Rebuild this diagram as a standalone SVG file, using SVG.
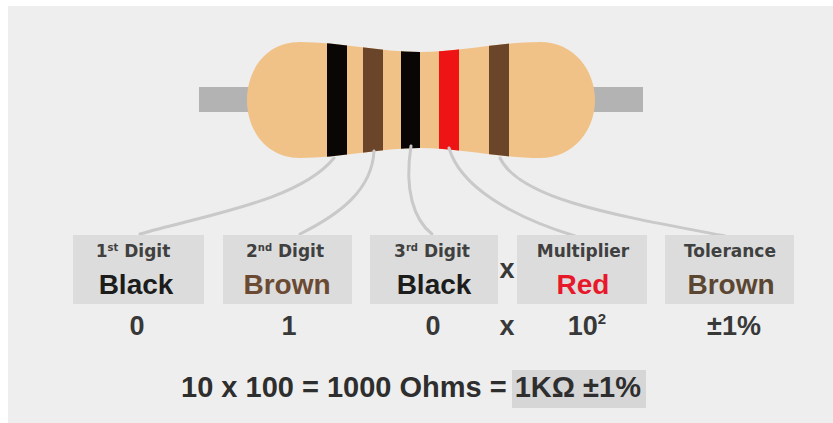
<svg xmlns="http://www.w3.org/2000/svg" width="833" height="423" viewBox="0 0 833 423">
  <style>
    .box { fill: #dcdcdc; }
    .lead { fill: #b3b3b3; }
    .wire { fill: none; stroke: #c9c9c9; stroke-width: 3; stroke-linecap: round; }
    .label { font-family: "DejaVu Sans", sans-serif; font-weight: bold; font-size: 17px; fill: #404040; text-anchor: middle; }
    .sup { font-size: 10px; }
    .word { font-family: "Liberation Sans", Arial, sans-serif; font-weight: bold; font-size: 28px; text-anchor: middle; }
    .num { font-family: "Liberation Sans", Arial, sans-serif; font-weight: bold; font-size: 27px; fill: #383838; text-anchor: middle; }
    .eq { font-family: "Liberation Sans", Arial, sans-serif; font-weight: bold; font-size: 29px; fill: #2e2e2e; }
  </style>
  <defs>
    <clipPath id="bodyClip">
      <path d="M 300,42 C 340,42 380,52 420,52 C 460,52 500,42 540,42 C 574,42 595,70 595,100 C 595,130 574,158 540,158 C 500,158 460,148 420,148 C 380,148 340,158 300,158 C 266,158 247,130 247,100 C 247,70 266,42 300,42 Z"/>
    </clipPath>
  </defs>

  <!-- page -->
  <rect x="0" y="0" width="833" height="423" fill="#ffffff"/>
  <rect x="8" y="6" width="825" height="417" fill="#eeeeee"/>

  <!-- resistor -->
  <g id="resistor">
    <rect class="lead" x="199" y="87" width="62" height="25"/>
    <rect class="lead" x="580" y="87" width="63" height="25"/>
    <path d="M 300,42 C 340,42 380,52 420,52 C 460,52 500,42 540,42 C 574,42 595,70 595,100 C 595,130 574,158 540,158 C 500,158 460,148 420,148 C 380,148 340,158 300,158 C 266,158 247,130 247,100 C 247,70 266,42 300,42 Z" fill="#f1c287"/>
    <g clip-path="url(#bodyClip)">
      <rect x="327" y="38" width="20" height="124" fill="#0a0605"/>
      <rect x="363" y="38" width="20" height="124" fill="#6b4529"/>
      <rect x="401" y="38" width="19" height="124" fill="#0a0605"/>
      <rect x="439" y="38" width="20" height="124" fill="#ee1416"/>
      <rect x="489" y="38" width="20" height="124" fill="#6b4529"/>
    </g>
  </g>

  <!-- connectors from bands to labels -->
  <g id="connectors">
    <path class="wire" d="M 334,158 C 300,200 210,214 140,234"/>
    <path class="wire" d="M 374,151 C 372,190 340,214 300,234"/>
    <path class="wire" d="M 411,146 C 404,190 414,220 432,234"/>
    <path class="wire" d="M 449,148 C 460,186 510,216 575,236"/>
    <path class="wire" d="M 500,158 C 520,200 620,216 725,236"/>
  </g>

  <!-- band labels -->
  <g id="digit1">
    <rect class="box" x="73" y="235" width="131" height="69"/>
    <text class="label" x="133" y="257">1<tspan class="sup" dy="-6">st</tspan><tspan dy="6"> Digit</tspan></text>
    <text class="word" x="136" y="294" fill="#1c1c1c">Black</text>
  </g>
  <g id="digit2">
    <rect class="box" x="223" y="235" width="129" height="69"/>
    <text class="label" x="285" y="257">2<tspan class="sup" dy="-6">nd</tspan><tspan dy="6"> Digit</tspan></text>
    <text class="word" x="287" y="294" fill="#6b4a33">Brown</text>
  </g>
  <g id="digit3">
    <rect class="box" x="370" y="235" width="128" height="69"/>
    <text class="label" x="432" y="257">3<tspan class="sup" dy="-6">rd</tspan><tspan dy="6"> Digit</tspan></text>
    <text class="word" x="434" y="294" fill="#1c1c1c">Black</text>
  </g>
  <g id="times1">
    <text class="num" x="507" y="278">x</text>
  </g>
  <g id="multiplier">
    <rect class="box" x="517" y="235" width="130" height="69"/>
    <text class="label" x="583" y="257">Multiplier</text>
    <text class="word" x="583" y="294" fill="#e8182b">Red</text>
  </g>
  <g id="tolerance">
    <rect class="box" x="665" y="235" width="129" height="69"/>
    <text class="label" x="730" y="257">Tolerance</text>
    <text class="word" x="731" y="294" fill="#5b4631">Brown</text>
  </g>

  <!-- values -->
  <g id="values">
    <text class="num" x="137" y="335">0</text>
    <text class="num" x="289" y="335">1</text>
    <text class="num" x="433" y="335">0</text>
    <text class="num" x="507" y="335">x</text>
    <text class="num" x="587" y="335">10<tspan font-size="15" dy="-11">2</tspan></text>
    <text class="num" x="734" y="335">±1%</text>
  </g>

  <!-- result -->
  <g id="result">
    <rect x="512" y="370" width="134" height="38" fill="#d6d6d6"/>
    <text class="eq" x="181" y="397">10 x 100 = 1000 Ohms = 1KΩ ±1%</text>
  </g>
</svg>
